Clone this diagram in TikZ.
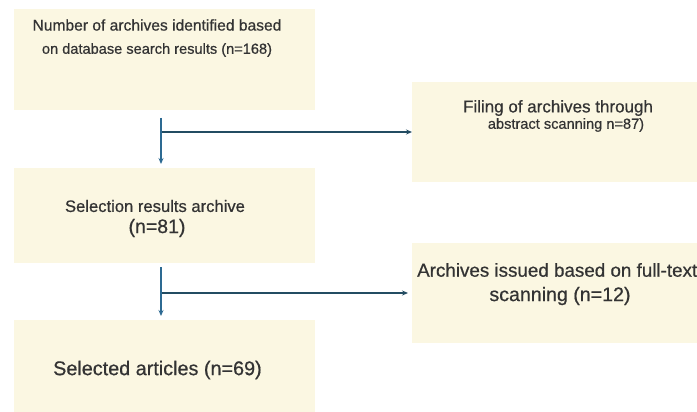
\documentclass[tikz,border=0pt]{standalone}
\usepackage{fontspec}
\setmainfont{Liberation Sans}[FakeBold=0.6]
\usetikzlibrary{arrows.meta}
\definecolor{boxfill}{HTML}{FBF7E2}
\definecolor{txt}{HTML}{333333}
\definecolor{vline}{HTML}{2D6A92}
\definecolor{hline}{HTML}{234C62}
\tikzset{
  box/.style={fill=boxfill, draw=none, inner sep=0pt, anchor=north west},
  lbl/.style={text=txt, inner sep=0pt, anchor=center},
  varr/.style={draw=vline, line width=1.4pt, -{Stealth[length=6pt,width=5pt]}},
  harr/.style={draw=hline, line width=1.3pt, -{Stealth[length=6pt,width=5pt]}},
}
\newcommand{\fs}[1]{\fontsize{#1}{#1}\selectfont}
\begin{document}
\begin{tikzpicture}[x=1pt,y=-1pt]
\clip (0,0) rectangle (697,412);
\fill[white] (0,0) rectangle (697,412);
% boxes
\node[box, minimum width=301pt, minimum height=101pt] (b1) at (14,9) {};
\node[box, minimum width=290pt, minimum height=100pt] (b2) at (412,82) {};
\node[box, minimum width=301pt, minimum height=95pt] (b3) at (14,168) {};
\node[box, minimum width=290pt, minimum height=100pt] (b4) at (412,243) {};
\node[box, minimum width=301pt, minimum height=92pt] (b5) at (14,320) {};
% texts
\node[lbl] (t1a) at (157,25) {\fs{15.6}Number of archives identified based};
\node[lbl] (t1b) at (157,50) {\fs{14.6}on database search results (n=168)};
\node[lbl] (t2a) at (558,108) {\fs{17}Filing of archives through};
\node[lbl] (t2b) at (566,125) {\fs{14.6}abstract scanning n=87)};
\node[lbl] (t3a) at (155,206) {\fs{16.6}Selection results archive};
\node[lbl, anchor=center] (t3b) at (157,228) {\fs{19.5}(n=81)};
\node[lbl, anchor=west] (t4a) at (417,270) {\fs{18.8}Archives issued based on full-text};
\node[lbl] (t4b) at (560,296) {\fs{19.6}scanning (n=12)};
\node[lbl, anchor=west] (t5) at (53,370) {\fs{19.8}Selected articles (n=69)};
% connectors
\coordinate (v1s) at (161,118);
\coordinate (j1) at (161,132);
\coordinate (v2s) at (161,267);
\coordinate (j2) at (161,293);
\draw[harr] (j1) -- (b2.west |- j1);
\draw[varr, shorten >=4pt] (v1s) -- (b3.north -| v1s);
\draw[harr, shorten >=4pt] (j2) -- (b4.west |- j2);
\draw[varr, shorten >=4pt] (v2s) -- (b5.north -| v2s);
\end{tikzpicture}
\end{document}
